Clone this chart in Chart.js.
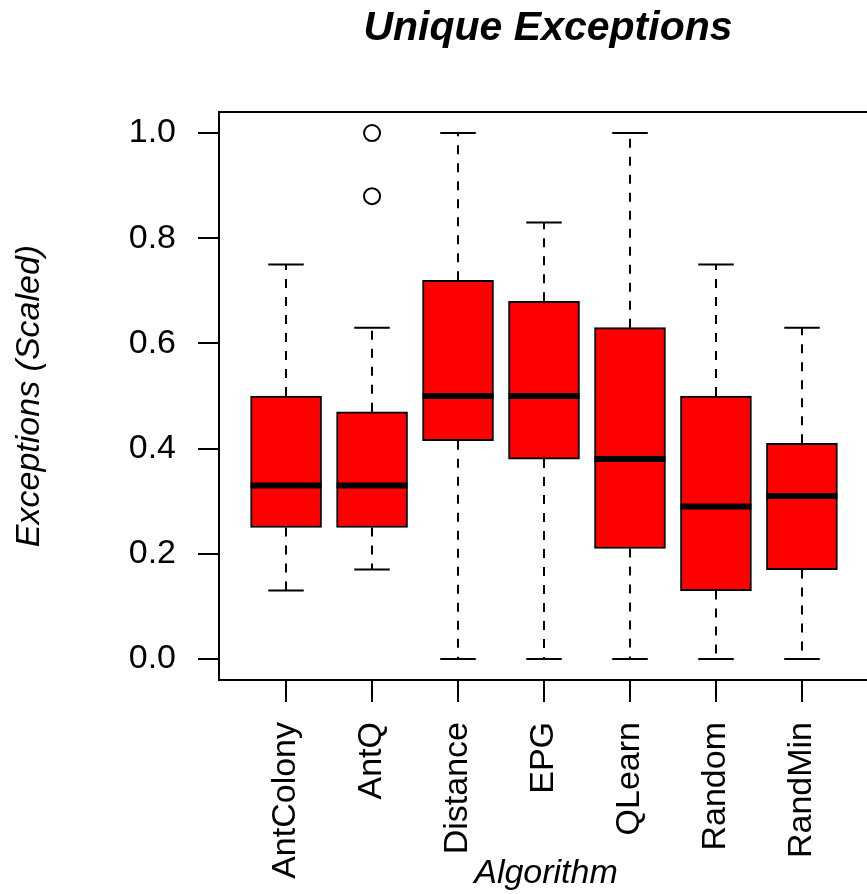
<!DOCTYPE html>
<html>
<head>
<meta charset="utf-8">
<script src="https://cdn.jsdelivr.net/npm/chart.js@4.4.0/dist/chart.umd.min.js"></script>
<style>
  html, body { margin: 0; padding: 0; background: #fff; overflow: hidden; }
  canvas { display: block; }
</style>
</head>
<body>
<canvas id="boxChart" width="880" height="894"></canvas>
<script>
// five-number summaries
const algorithms = ['AntColony', 'AntQ', 'Distance', 'EPG', 'QLearn', 'Random', 'RandMin'];
const whiskerLow = [0.13, 0.17, 0, 0, 0, 0, 0];
const lowerQuartile = [0.25, 0.25, 0.415, 0.38, 0.21, 0.13, 0.17];
const medians = [0.33, 0.33, 0.50, 0.50, 0.38, 0.29, 0.31];
const upperQuartile = [0.50, 0.47, 0.72, 0.68, 0.63, 0.50, 0.41];
const whiskerHigh = [0.75, 0.63, 1.0, 0.83, 1.0, 0.75, 0.63];
const outliers = [[], [0.88, 1.0], [], [], [], [], []];
const yTicks = [0, 0.2, 0.4, 0.6, 0.8, 1.0];

const FONT = '"Liberation Sans", Arial, Helvetica, sans-serif';

let boxes = algorithms.map((a, i) => ({ x: i + 1, y: [lowerQuartile[i], upperQuartile[i]] }));
let outlierPts = [];
outliers.forEach((list, i) => {
  list.forEach(v => outlierPts.push({ x: i + 1, y: v }));
});

// whiskers, caps, medians, frame and titles
const boxExtras = {
  id: 'boxExtras',
  beforeDatasetsDraw(chart) {
    let ctx = chart.ctx;
    let xs = chart.scales.x, ys = chart.scales.y;
    let meta = chart.getDatasetMeta(0);
    ctx.save();
    ctx.strokeStyle = '#000';
    ctx.lineWidth = 2;
    algorithms.forEach((a, i) => {
      let px = Math.round(xs.getPixelForValue(i + 1));
      let half = meta.data[i].width / 4;
      ctx.setLineDash([9, 9]);
      ctx.beginPath();
      ctx.moveTo(px, ys.getPixelForValue(upperQuartile[i]));
      ctx.lineTo(px, ys.getPixelForValue(whiskerHigh[i]));
      ctx.moveTo(px, ys.getPixelForValue(lowerQuartile[i]));
      ctx.lineTo(px, ys.getPixelForValue(whiskerLow[i]));
      ctx.stroke();
      ctx.setLineDash([]);
      ctx.beginPath();
      let hy = ys.getPixelForValue(whiskerHigh[i]);
      let ly = ys.getPixelForValue(whiskerLow[i]);
      ctx.moveTo(px - half, hy);
      ctx.lineTo(px + half, hy);
      ctx.moveTo(px - half, ly);
      ctx.lineTo(px + half, ly);
      ctx.stroke();
    });
    ctx.restore();
  },
  afterDatasetsDraw(chart) {
    let ctx = chart.ctx;
    let xs = chart.scales.x, ys = chart.scales.y;
    let meta = chart.getDatasetMeta(0);
    ctx.save();
    ctx.strokeStyle = '#000';
    ctx.lineWidth = 6;
    ctx.lineCap = 'butt';
    algorithms.forEach((a, i) => {
      let px = xs.getPixelForValue(i + 1);
      let half = meta.data[i].width / 2;
      let my = ys.getPixelForValue(medians[i]);
      ctx.beginPath();
      ctx.moveTo(px - half, my);
      ctx.lineTo(px + half, my);
      ctx.stroke();
    });
    ctx.restore();
  },
  afterDraw(chart) {
    let ctx = chart.ctx;
    let area = chart.chartArea;
    let cx = (area.left + area.right) / 2;
    let cy = (area.top + area.bottom) / 2;
    ctx.save();
    ctx.strokeStyle = '#000';
    ctx.lineWidth = 2;
    ctx.strokeRect(area.left, area.top, area.right - area.left, area.bottom - area.top);

    ctx.fillStyle = '#000';
    ctx.textAlign = 'center';
    ctx.textBaseline = 'alphabetic';
    ctx.font = 'italic bold 41px ' + FONT;
    ctx.fillText('Unique Exceptions', cx + 4, 40);

    ctx.font = 'italic 34px ' + FONT;
    ctx.fillText('Algorithm', cx + 2, 883);

    ctx.translate(39, cy);
    ctx.rotate(-Math.PI / 2);
    ctx.fillText('Exceptions (Scaled)', 0, 0);
    ctx.restore();
  }
};

const ctx = document.getElementById('boxChart').getContext('2d');
const chart = new Chart(ctx, {
  type: 'bar',
  data: {
    datasets: [{
      type: 'bar',
      label: 'Exceptions',
      data: boxes,
      backgroundColor: '#ff0000',
      borderColor: '#000000',
      borderWidth: 2,
      borderSkipped: false,
      barThickness: 71
    }, {
      type: 'scatter',
      label: 'Outliers',
      data: outlierPts,
      pointStyle: 'circle',
      pointRadius: 8,
      pointBorderWidth: 2,
      pointBorderColor: '#000',
      pointBackgroundColor: 'rgba(0,0,0,0)'
    }]
  },
  options: {
    responsive: false,
    animation: false,
    devicePixelRatio: 1,
    layout: { padding: { top: 112, right: 11, bottom: 0, left: 0 } },
    plugins: {
      legend: { display: false },
      tooltip: { enabled: false },
      title: { display: false }
    },
    scales: {
      x: {
        type: 'linear',
        min: 0.22,
        max: 7.78,
        offset: false,
        afterBuildTicks: (scale) => { scale.ticks = algorithms.map((a, i) => ({ value: i + 1 })); },
        afterFit: (scale) => { scale.height = 214; },
        ticks: {
          autoSkip: false,
          minRotation: 90,
          maxRotation: 90,
          padding: 20,
          color: '#000',
          font: { family: FONT, size: 34 },
          callback: (v) => algorithms[v - 1]
        },
        grid: { offset: false, drawOnChartArea: false, drawTicks: true, tickLength: 22, color: '#000', lineWidth: 2 },
        border: { display: true, color: '#000', width: 2 }
      },
      y: {
        min: -0.04,
        max: 1.04,
        afterBuildTicks: (scale) => { scale.ticks = yTicks.map(v => ({ value: v })); },
        afterFit: (scale) => { scale.width = 219; },
        ticks: {
          padding: 22,
          color: '#000',
          font: { family: FONT, size: 34 },
          callback: (v) => Number(v).toFixed(1)
        },
        grid: { drawOnChartArea: false, drawTicks: true, tickLength: 21, color: '#000', lineWidth: 2 },
        border: { display: true, color: '#000', width: 2 }
      }
    }
  },
  plugins: [boxExtras]
});
</script>
</body>
</html>
